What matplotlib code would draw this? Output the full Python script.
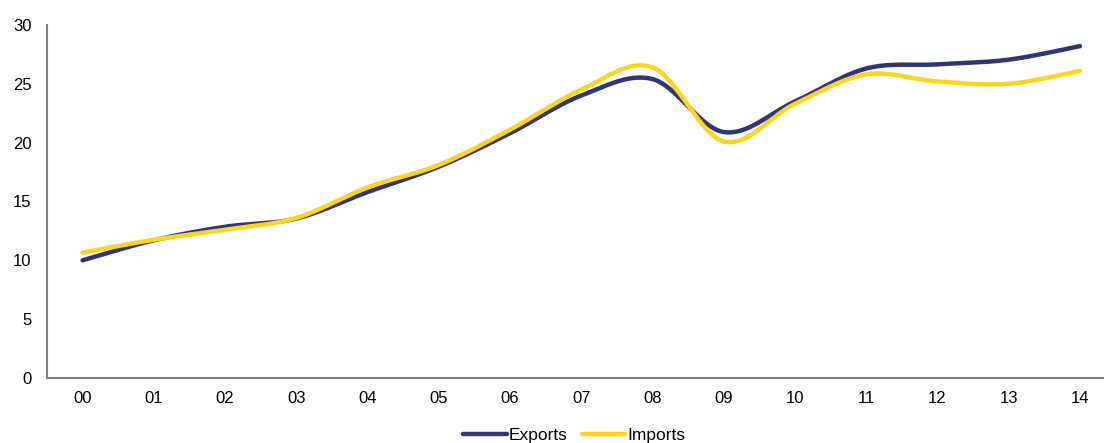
import numpy as np
import matplotlib.pyplot as plt

plt.rcParams['font.family'] = ['Liberation Sans', 'DejaVu Sans']

# data
years = ['00', '01', '02', '03', '04', '05', '06', '07', '08', '09',
         '10', '11', '12', '13', '14']
exports = [10.0, 11.7, 12.85, 13.55, 15.8, 17.95, 20.8, 24.0, 25.4, 20.9,
           23.5, 26.3, 26.65, 27.05, 28.2]
imports = [10.65, 11.75, 12.6, 13.6, 16.2, 18.1, 21.1, 24.5, 26.4, 20.1,
           23.3, 25.8, 25.2, 25.0, 26.1]

NAVY = '#2e3675'
YELLOW = '#ffd41f'


def smooth(y, n=40):
    # Excel-like smoothed line: cubic bezier with catmull-rom control points
    y = np.asarray(y, float)
    x = np.arange(len(y), dtype=float)
    xp = np.concatenate([[x[0]], x, [x[-1]]])
    yp = np.concatenate([[y[0]], y, [y[-1]]])
    xs, ys = [], []
    t = np.linspace(0, 1, n)
    for i in range(len(y) - 1):
        p0 = np.array([x[i], y[i]])
        p3 = np.array([x[i + 1], y[i + 1]])
        c1 = p0 + (np.array([xp[i + 2], yp[i + 2]]) - np.array([xp[i], yp[i]])) / 6
        c2 = p3 - (np.array([xp[i + 3], yp[i + 3]]) - np.array([xp[i + 1], yp[i + 1]])) / 6
        b = ((1 - t) ** 3)[:, None] * p0 + (3 * (1 - t) ** 2 * t)[:, None] * c1 \
            + (3 * (1 - t) * t ** 2)[:, None] * c2 + (t ** 3)[:, None] * p3
        xs.append(b[:, 0])
        ys.append(b[:, 1])
    return np.concatenate(xs), np.concatenate(ys)


fig = plt.figure(figsize=(11.04, 4.43), dpi=100)
ax = fig.add_axes([0.0425, 0.1467, 0.968, 0.797])

ex, ey = smooth(exports)
ix, iy = smooth(imports)
ax.plot(ex, ey, color=NAVY, lw=3.2, solid_capstyle='round', label='Exports')
ax.plot(ix, iy, color=YELLOW, lw=3.2, solid_capstyle='round', label='Imports')

ax.set_xlim(-0.5, len(years) - 0.5)
ax.set_ylim(0, 30)
ax.set_xticks(range(len(years)))
ax.set_xticklabels(years)
ax.set_yticks(range(0, 31, 5))
ax.tick_params(length=0, labelsize=12, colors='black')
ax.tick_params(axis='x', pad=9)
ax.tick_params(axis='y', pad=11)

for s in ['top', 'right']:
    ax.spines[s].set_visible(False)
for s in ['left', 'bottom']:
    ax.spines[s].set_color('#808080')
    ax.spines[s].set_linewidth(1.5)

ax.legend(loc='center', bbox_to_anchor=(0.52, 0.017), bbox_transform=fig.transFigure,
          ncol=2, frameon=False, fontsize=12.5, handlelength=2.5, handletextpad=0.1,
          columnspacing=0.85, borderaxespad=0, borderpad=0)

fig.savefig('out.png', dpi=100)
